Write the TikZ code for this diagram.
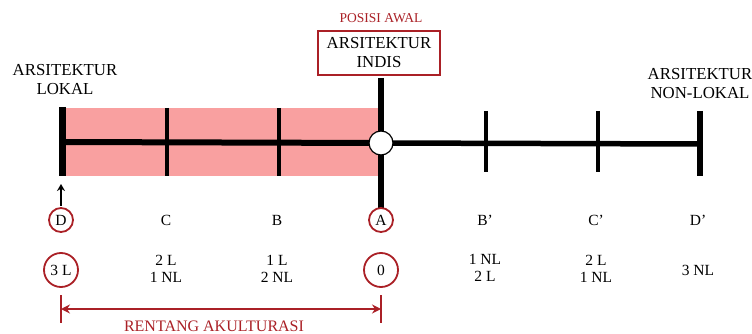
\documentclass[tikz,border=0pt]{standalone}
\usepackage{fontspec}
\setmainfont{Liberation Serif}
\usetikzlibrary{arrows.meta}
\definecolor{dred}{RGB}{170,32,38}
\definecolor{pinkfill}{RGB}{249,160,160}
\tikzset{
  lbl/.style={font=\fontsize{15.5}{16.5}\selectfont, align=center, inner sep=0pt},
  biglbl/.style={font=\fontsize{16.8}{19}\selectfont, align=center, inner sep=0pt},
  redc/.style={circle, draw=dred, line width=1.8pt, inner sep=0pt, font=\fontsize{15.5}{16}\selectfont},
  tickthin/.style={line width=4pt},
  tickthick/.style={line width=7pt},
}
\begin{document}
\begin{tikzpicture}[x=1pt,y=-1pt]
\useasboundingbox (0,0) rectangle (752,334);
% pink band
\fill[pinkfill] (62,108) rectangle (380,176);
% coordinates
\coordinate (L0t) at (62,107); \coordinate (L0b) at (62,176);
\coordinate (C1t) at (167,108); \coordinate (C1b) at (167,176);
\coordinate (B1t) at (279,108); \coordinate (B1b) at (279,176);
\coordinate (At) at (381,78); \coordinate (Ab) at (381,208);
\coordinate (B2t) at (486,111); \coordinate (B2b) at (486,172);
\coordinate (C2t) at (598,111); \coordinate (C2b) at (598,172);
\coordinate (D2t) at (700,111); \coordinate (D2b) at (700,176);
\coordinate (Lm) at (62,142); \coordinate (Am) at (381,143); \coordinate (Rm) at (700,144);
% main lines
\draw[line width=6pt] (Lm) -- (Am);
\draw[line width=5.5pt] (Am) -- (Rm);
\draw[tickthick] (L0t) -- (L0b);
\draw[tickthin] (C1t) -- (C1b);
\draw[tickthin] (B1t) -- (B1b);
\draw[line width=6pt] (At) -- (Ab);
\draw[tickthin] (B2t) -- (B2b);
\draw[tickthin] (C2t) -- (C2b);
\draw[line width=6.5pt] (D2t) -- (D2b);
\node[circle, draw=black, fill=white, line width=1.2pt, minimum size=24pt, inner sep=0pt] (ctr) at (Am) {};
% top labels
\node[lbl, text=dred, font=\fontsize{13.5}{15}\selectfont] (posisi) at (381,18) {POSISI AWAL};
\node[biglbl, draw=dred, line width=2pt, minimum width=122pt, minimum height=44pt] (indis) at (379,53) {ARSITEKTUR\\INDIS};
\node[biglbl] (lokal) at (65,80) {ARSITEKTUR\\LOKAL};
\node[biglbl] (nonlokal) at (700,84) {ARSITEKTUR\\NON-LOKAL};
% letters
\node[redc, minimum size=24pt] (D) at (61,220) {D};
\node[lbl] (C) at (166,220) {C};
\node[lbl] (B) at (277,220) {B};
\node[redc, minimum size=24pt] (A) at (381,220) {A};
\node[lbl] (Bp) at (485,220) {B'};
\node[lbl] (Cp) at (596,220) {C'};
\node[lbl] (Dp) at (698,220) {D'};
% values
\node[redc, minimum size=34pt] (v3L) at (61,270) {3 L};
\node[lbl] (vC) at (166,269) {2 L\\1 NL};
\node[lbl] (vB) at (277,269) {1 L\\2 NL};
\node[redc, minimum size=34pt] (v0) at (381,270) {0};
\node[lbl] (vBp) at (485,268) {1 NL\\2 L};
\node[lbl] (vCp) at (596,269) {2 L\\1 NL};
\node[lbl] (vDp) at (698,270) {3 NL};
% arrow up from D
\coordinate (arrEnd) at (61,184);
\draw[line width=2.2pt, -{Stealth[length=7pt,width=8pt]}] (D.north) ++(0,-1) -- (arrEnd);
% range arrow
\coordinate (r1t) at (61,295); \coordinate (r1b) at (61,323);
\coordinate (r2t) at (381,295); \coordinate (r2b) at (381,323);
\coordinate (r1) at (61,309); \coordinate (r2) at (381,309);
\draw[dred, line width=1.2pt] (r1t) -- (r1b);
\draw[dred, line width=1.2pt] (r2t) -- (r2b);
\draw[dred, line width=2pt, {Stealth[length=9pt,width=9pt]}-{Stealth[length=9pt,width=9pt]}] (r1) -- (r2);
\node[lbl, text=dred, font=\fontsize{16}{17}\selectfont] (rentang) at (214,326) {RENTANG AKULTURASI};
\end{tikzpicture}
\end{document}
